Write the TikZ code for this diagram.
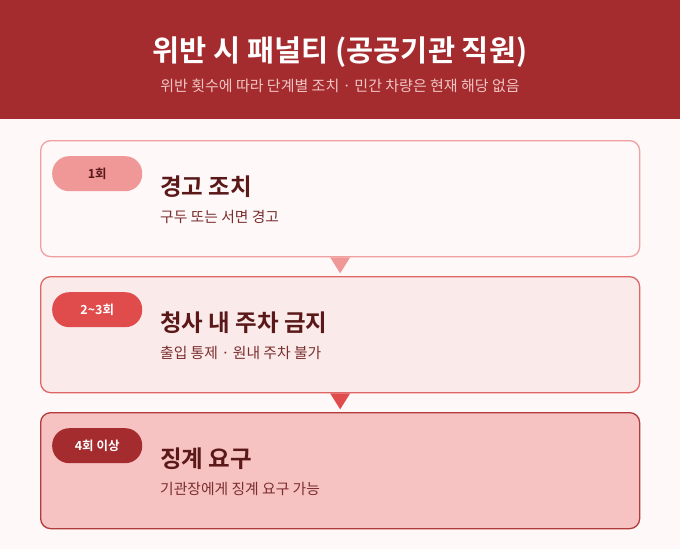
\documentclass[tikz,border=0pt]{standalone}
\usepackage{fontspec}
\setmainfont{Noto Sans CJK KR}
\newfontfamily\krb{Noto Sans CJK KR Bold}
\usetikzlibrary{positioning}
\definecolor{bgc}{HTML}{FEF8F8}
\definecolor{hdr}{HTML}{A42B2E}
\definecolor{subhdr}{HTML}{F2C4C4}
\definecolor{dark}{HTML}{5A1818}
\definecolor{subtx}{HTML}{7A2E2E}
\definecolor{bOne}{HTML}{F0A0A0}
\definecolor{fOne}{HTML}{FFF8F8}
\definecolor{pOne}{HTML}{F09797}
\definecolor{bTwo}{HTML}{E06666}
\definecolor{fTwo}{HTML}{FBEAEA}
\definecolor{pTwo}{HTML}{E04B4B}
\definecolor{bThree}{HTML}{B23A3A}
\definecolor{fThree}{HTML}{F7C2C2}
\definecolor{pThree}{HTML}{A42B2E}
\tikzset{
  card/.style={rounded corners=10pt, line width=1.3pt, minimum width=599pt, minimum height=116pt, anchor=north west, inner sep=0pt},
  pill/.style={rounded corners=17pt, minimum width=90pt, minimum height=35pt, anchor=north west, inner sep=0pt, font=\krb\fontsize{12.5}{13}\selectfont},
  ttl/.style={anchor=west, inner sep=0pt, text=dark, font=\krb\fontsize{23.5}{25}\selectfont},
  dsc/.style={anchor=west, inner sep=0pt, text=subtx, font=\fontsize{14.8}{16}\selectfont}
}
\begin{document}
\begin{tikzpicture}[x=1pt,y=-1pt]
\fill[bgc] (0,0) rectangle (680,549);
\useasboundingbox (0,0) rectangle (680,549);
\fill[hdr] (0,0) rectangle (680,119);
\node[text=white, font=\krb\fontsize{29.5}{31}\selectfont, inner sep=0pt] (title) at (340,52.5) {위반 시 패널티 (공공기관 직원)};
\node[text=subhdr, font=\fontsize{15}{16}\selectfont, inner sep=0pt] (subtitle) at (340,85.5) {위반 횟수에 따라 단계별 조치 · 민간 차량은 현재 해당 없음};

% card 1
\node[card, draw=bOne, fill=fOne] (c1) at (40,140) {};
\node[pill, fill=pOne, text=dark] (p1) at (52,156) {1회};
\node[ttl] (t1) at (160,186.5) {경고 조치};
\node[dsc] (d1) at (160,217) {구두 또는 서면 경고};

% card 2
\node[card, draw=bTwo, fill=fTwo] (c2) at (40,276) {};
\node[pill, fill=pTwo, text=white] (p2) at (52,292) {2\textasciitilde3회};
\node[ttl] (t2) at (160,322.5) {청사 내 주차 금지};
\node[dsc] (d2) at (160,353) {출입 통제 · 원내 주차 불가};

% card 3
\node[card, draw=bThree, fill=fThree] (c3) at (40,412) {};
\node[pill, fill=pThree, text=white] (p3) at (52,428) {4회 이상};
\node[ttl] (t3) at (160,458.5) {징계 요구};
\node[dsc] (d3) at (160,489) {기관장에게 징계 요구 가능};

% connectors (triangles)
\fill[pOne] ([xshift=-10pt]c1.south) -- ([xshift=10pt]c1.south) -- ([yshift=-16pt]c1.south) -- cycle;
\fill[pTwo] ([xshift=-10pt]c2.south) -- ([xshift=10pt]c2.south) -- ([yshift=-16pt]c2.south) -- cycle;
\end{tikzpicture}
\end{document}
